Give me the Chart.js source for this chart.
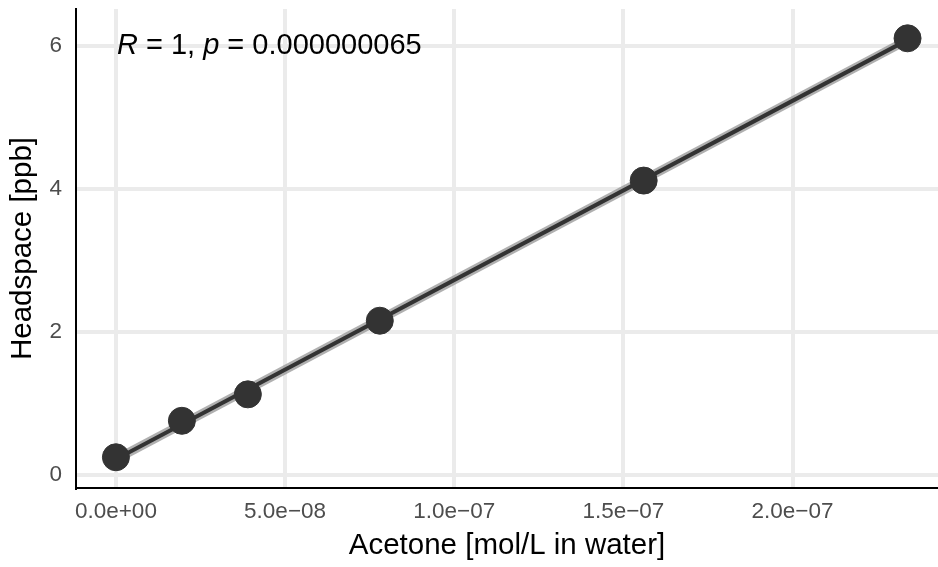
<!DOCTYPE html>
<html>
<head>
<meta charset="utf-8">
<script src="https://cdn.jsdelivr.net/npm/chart.js@4"></script>
<style>
  html, body { margin: 0; padding: 0; background: #fff; }
  #wrap { width: 938px; height: 567px; }
</style>
</head>
<body>
<div id="wrap"><canvas id="calib" width="938" height="567"></canvas></div>
<script>
// acetone concentration (mol/L in water) vs headspace (ppb)
const acetone = [0, 1.95e-8, 3.9e-8, 7.8e-8, 1.56e-7, 2.34e-7];
const headspace = [0.25, 0.76, 1.13, 2.16, 4.12, 6.11];

const xTickValues = [0, 5e-8, 1e-7, 1.5e-7, 2e-7];
const xTickLabels = ['0.0e+00', '5.0e\u221208', '1.0e\u221207', '1.5e\u221207', '2.0e\u221207'];
const yTickValues = [0, 2, 4, 6];
const yTickLabels = ['0', '2', '4', '6'];

const FONT = "'Liberation Sans', Arial, sans-serif";

// least squares fit, like geom_smooth(method = lm)
const n = acetone.length;
const mx = acetone.reduce((a, b) => a + b, 0) / n;
const my = headspace.reduce((a, b) => a + b, 0) / n;
let sxy = 0, sxx = 0;
for (let i = 0; i < n; i++) {
  sxy += (acetone[i] - mx) * (headspace[i] - my);
  sxx += (acetone[i] - mx) * (acetone[i] - mx);
}
const slope = sxy / sxx;
const icpt = my - slope * mx;
const fitLine = [acetone[0], acetone[n - 1]].map(x => ({ x: x, y: icpt + slope * x }));

const points = acetone.map((x, i) => ({ x: x, y: headspace[i] }));

// "R = 1, p = 0.000000065" with italic R and p
const statLabel = {
  id: 'statLabel',
  afterDatasetsDraw(chart) {
    const ctx = chart.ctx;
    const xs = chart.scales.x, ys = chart.scales.y;
    let x = xs.getPixelForValue(0) + 1;
    const y = ys.getPixelForValue(6);
    const parts = [
      ['R', true], [' = 1, ', false], ['p', true], [' = 0.000000065', false]
    ];
    ctx.save();
    ctx.fillStyle = '#000';
    ctx.textBaseline = 'middle';
    ctx.textAlign = 'left';
    parts.forEach(([t, it]) => {
      ctx.font = (it ? 'italic ' : '') + '29px ' + FONT;
      ctx.fillText(t, x, y);
      x += ctx.measureText(t).width;
    });
    ctx.restore();
  }
};

new Chart(document.getElementById('calib'), {
  type: 'scatter',
  data: {
    datasets: [
      {
        type: 'line',
        data: fitLine,
        borderColor: 'rgba(150,150,150,0.75)',
        borderWidth: 9,
        pointRadius: 0,
        clip: false,
        order: 3
      },
      {
        type: 'line',
        data: fitLine,
        borderColor: '#333333',
        borderWidth: 4,
        pointRadius: 0,
        clip: false,
        order: 2
      },
      {
        data: points,
        backgroundColor: '#333333',
        borderColor: '#333333',
        pointRadius: 13.5,
        pointHoverRadius: 13.5,
        clip: false,
        order: 1
      }
    ]
  },
  options: {
    responsive: false,
    animation: false,
    events: [],
    layout: { autoPadding: false, padding: { top: 9, right: 0, left: 0, bottom: 0 } },
    plugins: { legend: { display: false }, tooltip: { enabled: false } },
    scales: {
      x: {
        type: 'linear',
        min: -1.18e-8,
        max: 2.43e-7,
        afterBuildTicks: s => { s.ticks = xTickValues.map(v => ({ value: v })); },
        afterFit: s => { s.height = 79; s.paddingLeft = 0; s.paddingRight = 0; },
        ticks: {
          padding: 10,
          color: '#4d4d4d',
          font: { family: FONT, size: 22.5 },
          maxRotation: 0,
          autoSkip: false,
          callback: (v, i) => xTickLabels[i]
        },
        grid: { color: '#ebebeb', lineWidth: 4, drawTicks: false },
        border: { display: true, color: '#000', width: 2 },
        title: {
          display: true,
          text: 'Acetone [mol/L in water]',
          color: '#000',
          font: { family: FONT, size: 29.5 },
          padding: { top: 0, bottom: 3 }
        }
      },
      y: {
        type: 'linear',
        min: -0.18,
        max: 6.52,
        afterBuildTicks: s => { s.ticks = yTickValues.map(v => ({ value: v })); },
        afterFit: s => { s.width = 76; s.paddingTop = 0; s.paddingBottom = 0; },
        ticks: {
          padding: 14,
          color: '#4d4d4d',
          font: { family: FONT, size: 22.5 },
          autoSkip: false,
          callback: (v, i) => yTickLabels[i]
        },
        grid: { color: '#ebebeb', lineWidth: 4, drawTicks: false },
        border: { display: true, color: '#000', width: 2 },
        title: {
          display: true,
          text: 'Headspace [ppb]',
          color: '#000',
          font: { family: FONT, size: 29.5 },
          padding: { top: 5, bottom: 0 }
        }
      }
    }
  },
  plugins: [statLabel]
});
</script>
</body>
</html>
